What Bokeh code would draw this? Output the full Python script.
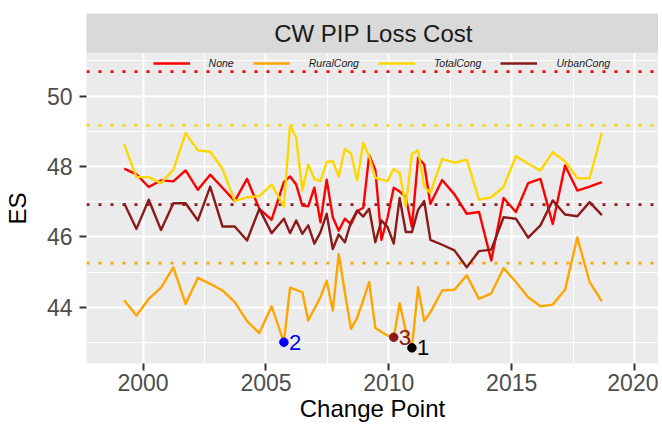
from bokeh.plotting import figure
from bokeh.models import Range1d, FixedTicker, Span, Label
from bokeh.layouts import column
from bokeh.core.properties import value
from bokeh.embed import file_html
from bokeh.resources import INLINE

FONT = "Liberation Sans"

# ---- data ----
change_point = [
    1999.23, 1999.73, 2000.23, 2000.73, 2001.23, 2001.73, 2002.23, 2002.73,
    2003.23, 2003.73, 2004.23, 2004.73, 2005.23, 2005.73,
    2005.98, 2006.23, 2006.48, 2006.72, 2006.97, 2007.22, 2007.47, 2007.72,
    2007.96, 2008.21, 2008.46, 2008.71, 2008.96, 2009.20, 2009.45, 2009.70,
    2009.95, 2010.20, 2010.44, 2010.69, 2010.94, 2011.19, 2011.44, 2011.69,
    2012.17, 2012.67, 2013.17, 2013.67, 2014.17, 2014.67, 2015.17, 2015.67,
    2016.17, 2016.67, 2017.17, 2017.67, 2018.17, 2018.67,
]

es_none = [
    47.94, 47.78, 47.42, 47.61, 47.58, 47.89, 47.34, 47.77, 47.40, 47.02, 47.65, 46.80, 46.49, 47.56,
    47.72, 47.49, 46.89, 46.87, 47.40, 46.42, 47.63, 46.56, 46.18, 46.52, 46.36, 46.73, 46.83, 48.32,
    47.91, 45.92, 46.56, 47.40, 47.29, 47.13, 46.28, 48.25, 48.06, 46.94,
    47.62, 47.21, 46.66, 46.71, 45.33, 47.11, 46.71, 47.53, 47.65, 46.37, 48.03, 47.32, 47.43, 47.56,
]
es_rural = [
    44.20, 43.77, 44.24, 44.56, 45.14, 44.10, 44.84, 44.67, 44.48, 44.15, 43.61, 43.27, 44.03, 43.01,
    44.56, 44.50, 44.43, 43.63, 43.96, 44.29, 44.76, 43.91, 45.52, 44.43, 43.39, 43.70, 44.21, 44.72,
    43.42, 43.30, 43.20, 43.15, 44.12, 43.34, 42.85, 44.57, 43.61, 43.86,
    44.48, 44.50, 44.91, 44.24, 44.40, 45.12, 44.72, 44.29, 44.03, 44.08, 44.50, 45.99, 44.72, 44.17,
]
es_total = [
    48.63, 47.70, 47.70, 47.53, 47.91, 48.95, 48.46, 48.42, 47.94, 47.02, 47.13, 47.16, 47.49, 46.87,
    49.17, 48.82, 47.32, 48.06, 47.65, 47.59, 48.13, 48.15, 47.72, 48.50, 48.38, 47.61, 48.67, 48.29,
    47.68, 47.63, 47.59, 47.94, 47.81, 46.87, 48.36, 48.46, 47.43, 47.25,
    48.22, 48.11, 48.20, 47.06, 47.13, 47.42, 48.30, 48.08, 47.89, 48.41, 48.15, 47.67, 47.67, 48.96,
]
es_urban = [
    46.96, 46.23, 47.06, 46.20, 46.96, 46.96, 46.47, 47.43, 46.30, 46.30, 45.90, 46.80, 46.11, 46.52,
    46.11, 46.47, 46.09, 46.33, 45.81, 46.14, 46.66, 45.66, 46.07, 45.85, 46.42, 46.75, 46.58, 46.80,
    45.85, 46.47, 46.28, 45.81, 47.11, 46.14, 46.14, 46.77, 47.02, 45.92,
    45.78, 45.62, 45.14, 45.60, 45.64, 46.56, 46.52, 45.98, 46.33, 47.04, 46.64, 46.59, 46.99, 46.62,
]

series_names = ["None", "RuralCong", "TotalCong", "UrbanCong"]
series_colors = ["#FF0000", "#FFA500", "#FFD700", "#8B1A1A"]
series_values = [es_none, es_rural, es_total, es_urban]

hline_values = [50.70, 45.26, 49.17, 46.92]   # same order as series_names

cp_x = [2010.94, 2005.73, 2010.20]
cp_y = [42.85, 43.01, 43.15]
cp_labels = ["1", "2", "3"]
cp_colors = ["#000000", "#0000FF", "#8B1A1A"]

x_ticks = [2000, 2005, 2010, 2015, 2020]
x_minor = [2002.5, 2007.5, 2012.5, 2017.5]
y_ticks = [44, 46, 48, 50]
y_minor = [43, 45, 47, 49, 51]

title_text = "CW PIP Loss Cost"

# ---- main panel ----
W = 658
LEFT = 84
p = figure(width=W, height=371, x_range=Range1d(1997.697, 2020.974),
           y_range=Range1d(42.406, 51.213), toolbar_location=None,
           output_backend="svg", min_border_left=LEFT, min_border_right=0,
           min_border_top=0, min_border_bottom=61,
           background_fill_color="#EBEBEB", border_fill_color="white",
           outline_line_color=None)

p.xaxis.ticker = FixedTicker(ticks=x_ticks, minor_ticks=x_minor)
p.yaxis.ticker = FixedTicker(ticks=y_ticks, minor_ticks=y_minor)
for g in p.grid:
    g.grid_line_color = "white"
    g.grid_line_width = 2
    g.minor_grid_line_color = "white"
    g.minor_grid_line_width = 1.1

for ax in (p.xaxis[0], p.yaxis[0]):
    ax.axis_line_color = None
    ax.major_tick_line_color = "#333333"
    ax.major_tick_line_width = 2
    ax.major_tick_in = 0
    ax.major_tick_out = 7
    ax.minor_tick_line_color = None
    ax.major_label_text_font = FONT
    ax.major_label_text_font_size = "23px"
    ax.major_label_text_color = "#4D4D4D"
    ax.axis_label_text_font = FONT
    ax.axis_label_text_font_size = "24px"
    ax.axis_label_text_font_style = "normal"
    ax.axis_label_text_color = "#000000"

p.xaxis.major_label_standoff = 3
p.xaxis.axis_label = "Change Point"
p.xaxis.axis_label_standoff = 1
p.yaxis.major_label_standoff = 7
p.yaxis.axis_label = "ES"
p.yaxis.axis_label_standoff = 13

for hv, col in zip(hline_values, series_colors):
    p.add_layout(Span(location=hv, dimension="width", line_color=col,
                      line_width=2.8, line_dash="3 9", level="underlay"))

for name, col, vals in zip(series_names, series_colors, series_values):
    p.line(change_point, vals, line_color=col, line_width=2.4,
           line_join="round", legend_label=name)

p.scatter(cp_x, cp_y, size=8.5, color=cp_colors)
p.text(cp_x, cp_y, text=cp_labels, text_color=cp_colors, x_offset=5,
       text_align="left", text_baseline="middle",
       text_font=value(FONT), text_font_size="22px")

lg = p.legend[0]
lg.orientation = "horizontal"
lg.location = (66.6, 294)
lg.glyph_width = 37
lg.glyph_height = 12
lg.label_height = 12
lg.label_width = 0
lg.label_standoff = 19
lg.spacing = 19
lg.padding = 0
lg.margin = 0
lg.label_text_font = FONT
lg.label_text_font_size = "10.5px"
lg.label_text_font_style = "italic"
lg.label_text_color = "#1A1A1A"
lg.background_fill_alpha = 0
lg.border_line_alpha = 0

# ---- facet strip ----
strip = figure(width=W, height=53, x_range=p.x_range, y_range=Range1d(0, 1),
               toolbar_location=None, output_backend="svg",
               min_border_left=LEFT, min_border_right=0, min_border_top=13,
               min_border_bottom=0, x_axis_location=None, y_axis_location=None,
               background_fill_color="#D9D9D9", border_fill_color="white",
               outline_line_color=None)
strip.grid.visible = False
strip.add_layout(Label(x=287, y=20, x_units="screen", y_units="screen",
                       text=title_text, text_align="center",
                       text_baseline="middle", text_font=FONT,
                       text_font_size="24px", text_color="#1A1A1A"))

layout = column(strip, p, spacing=0)
open("out.html", "w").write(file_html(layout, INLINE))
